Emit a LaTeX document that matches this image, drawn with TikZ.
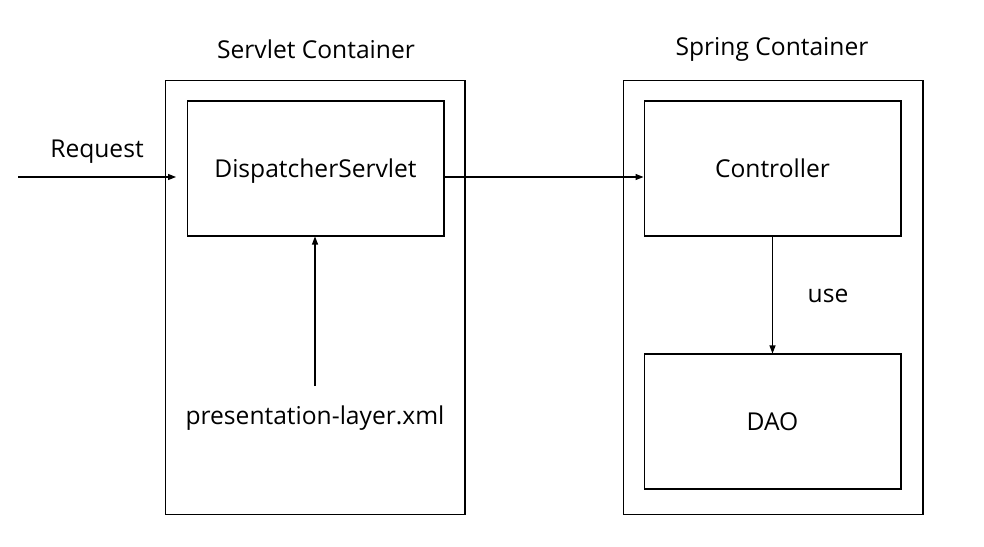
\documentclass[tikz,border=0pt]{standalone}
\usepackage{fontspec}
\setmainfont{Open Sans}
\usetikzlibrary{arrows.meta}
\tikzset{
  container/.style={draw,line width=0.6pt,minimum width=6cm,minimum height=8.7cm,inner sep=0pt},
  block/.style={draw,line width=0.6pt,minimum width=5.14cm,minimum height=2.7cm,inner sep=0pt,text depth=0pt,font=\fontsize{14}{16}\selectfont},
  label/.style={font=\fontsize{14}{16}\selectfont},
  flow/.style={-{Triangle[length=1.6mm,width=1.2mm]},line width=0.6pt}
}
\begin{document}
\begin{tikzpicture}[x=0.02cm,y=-0.02cm]
    \useasboundingbox (0,0) rectangle (984,547);

    % containers
    \node[container] (servlet) at (315,297.5) {};
    \node[container] (spring) at (773,297.5) {};
    \node[label] (servlettitle) at (316,49) {Servlet Container};
    \node[label] (springtitle) at (772,49) {Spring Container};

    % blocks
    \node[block] (dispatcher) at (315.5,168.5) {DispatcherServlet};
    \node[block] (controller) at (772.5,168.5) {Controller};
    \node[block] (dao) at (772.5,421.5) {DAO};

    % texts
    \node[label] (request) at (97,152) {Request};
    \node[label] (xml) at (315,418) {presentation-layer.xml};
    \node[label] (use) at (828,296) {use};

    \coordinate (in) at (18,177);
    \coordinate (inend) at (176,177);
    \coordinate (xmltop) at (315,386);

    % arrows
    \draw[flow] (in) -- (inend);
    \draw[flow] (dispatcher.east |- in) -- (controller.west |- in);
    \draw[flow] (xmltop) -- (xmltop |- dispatcher.south);
    \draw[flow] (controller.south) -- (dao.north);
\end{tikzpicture}
\end{document}
